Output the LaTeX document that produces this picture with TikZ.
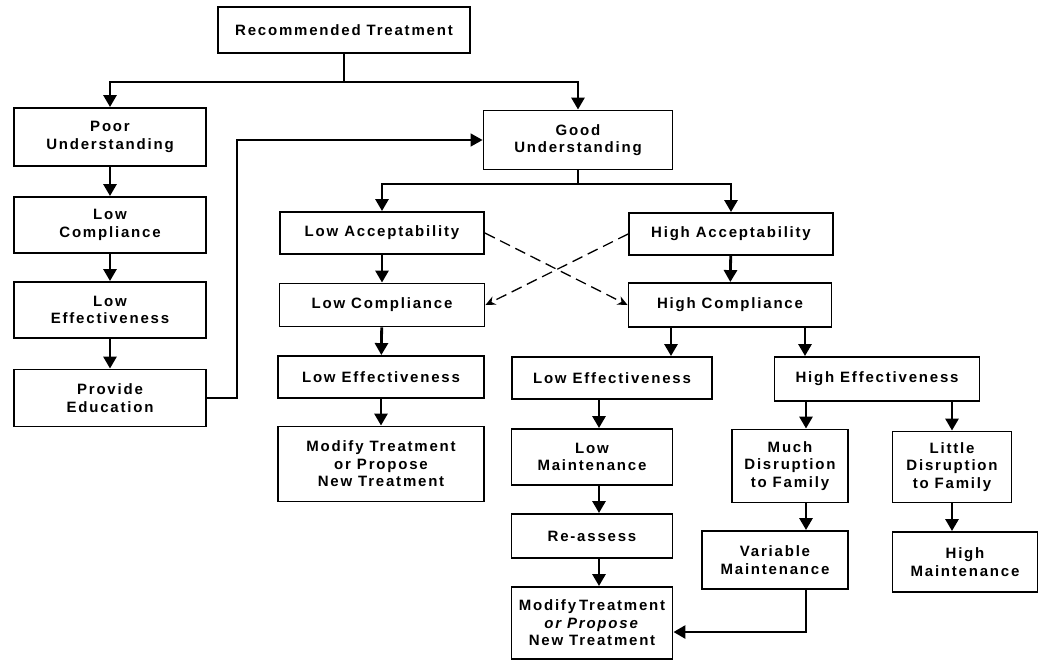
\documentclass[tikz,border=0pt]{standalone}
\usepackage{fontspec}
\setmainfont{Liberation Sans}[LetterSpace=12]
\usetikzlibrary{arrows.meta,calc}
\tikzset{
	box/.style={draw, line width=1.9pt, align=center, inner sep=0pt, font=\bfseries\fontsize{15}{17.5}\selectfont},
	flow/.style={line width=2.8pt, -{Triangle[width=13pt,length=12pt]}},
	trunk/.style={line width=2.8pt},
	backflow/.style={line width=1.6pt, -{Triangle[width=13pt,length=12pt]}},
	crossflow/.style={line width=1.3pt, dash pattern=on 11pt off 6pt, -{Stealth[width=9pt,length=10pt]}},
}

\begin{document}
\begin{tikzpicture}[x=1pt,y=-1pt]
			\useasboundingbox (0,0) rectangle (1038,662);
			\node[box, minimum width=252pt, minimum height=46pt] (rt) at (344,30) {Recommended Treatment};
			\node[box, minimum width=192pt, minimum height=58pt] (poor) at (110,137) {Poor\\Understanding};
			\node[box, minimum width=192pt, minimum height=56pt] (lcompA) at (110,225) {Low\\Compliance};
			\node[box, minimum width=192pt, minimum height=56pt] (leffA) at (110,310) {Low\\Effectiveness};
			\node[box, minimum width=192pt, minimum height=57pt] (educ) at (110,398) {Provide\\Education};
			\node[box, minimum width=189pt, minimum height=59pt] (good) at (578,140) {Good\\Understanding};
			\node[box, minimum width=204pt, minimum height=42pt] (lacc) at (382,233) {Low Acceptability};
			\node[box, minimum width=204pt, minimum height=42pt] (hacc) at (731,234) {High Acceptability};
			\node[box, minimum width=205pt, minimum height=43pt] (lcompB) at (382,305) {Low Compliance};
			\node[box, minimum width=203pt, minimum height=44pt] (hcomp) at (730,305) {High Compliance};
			\node[box, minimum width=206pt, minimum height=42pt] (leffB) at (381,377) {Low Effectiveness};
			\node[box, minimum width=206pt, minimum height=75pt] (modA) at (381,464) {Modify Treatment\\or Propose\\New Treatment};
			\node[box, minimum width=200pt, minimum height=42pt] (leffC) at (612,378) {Low Effectiveness};
			\node[box, minimum width=161pt, minimum height=56pt] (lmaint) at (592,457) {Low\\Maintenance};
			\node[box, minimum width=161pt, minimum height=44pt] (reass) at (592,536) {Re-assess};
			\node[box, minimum width=161pt, minimum height=72pt] (modB) at (592,623) {Modify\hspace{-3pt} Treatment\\\textit{or Propose}\\New Treatment};
			\node[box, minimum width=205pt, minimum height=44pt] (heff) at (877,379) {High Effectiveness};
			\node[box, minimum width=116pt, minimum height=73pt] (much) at (790,466) {Much\\Disruption\\to Family};
			\node[box, minimum width=119pt, minimum height=71pt] (little) at (952,467) {Little\\Disruption\\to Family};
			\node[box, minimum width=146pt, minimum height=58pt] (varm) at (775,560) {Variable\\Maintenance};
			\node[box, minimum width=145pt, minimum height=60pt] (highm) at (965,562) {High\\Maintenance};
			\coordinate (rtfork) at (344,82);
			\coordinate (goodfork) at (578,184);
			\draw[trunk] (rt.south) -- (rtfork);
			\draw[flow] (rtfork) -| (poor.north);
			\draw[flow] (rtfork) -| (good.north);
			\draw[flow] (poor) -- (lcompA);
			\draw[flow] (lcompA) -- (leffA);
			\draw[flow] (leffA) -- (educ);
			\draw[backflow] (educ.east) -- ++(30,0) |- (good.west);
			\draw[trunk] (good.south) -- (goodfork);
			\draw[flow] (goodfork) -| (lacc.north);
			\draw[flow] (goodfork) -| (hacc.north);
			\draw[flow] (lacc) -- (lcompB);
			\draw[flow] (lcompB) -- (leffB);
			\draw[flow] (leffB) -- (modA);
			\draw[flow] (hacc) -- (hcomp);
			\draw[crossflow] (lacc.east) -- (hcomp.west);
			\draw[crossflow] (hacc.west) -- (lcompB.east);
			\draw[flow] ([xshift=-59pt]hcomp.south) -- ([xshift=-59pt]hcomp.south |- leffC.north);
			\draw[flow] ([xshift=75pt]hcomp.south) -- ([xshift=75pt]hcomp.south |- heff.north);
			\draw[flow] ([xshift=7pt]lmaint.north |- leffC.south) -- ([xshift=7pt]lmaint.north);
			\draw[flow] ([xshift=7pt]lmaint.south) -- ([xshift=7pt]reass.north);
			\draw[flow] ([xshift=7pt]reass.south) -- ([xshift=7pt]modB.north);
			\draw[flow] ([xshift=16pt]much.north |- heff.south) -- ([xshift=16pt]much.north);
			\draw[flow] (little.north |- heff.south) -- (little.north);
			\draw[flow] ([xshift=16pt]much.south) -- ([xshift=16pt]much.south |- varm.north);
			\draw[flow] (little.south) -- (little.south |- highm.north);
			\draw[flow] ([xshift=31pt]varm.south) |- ([yshift=-9pt]modB.east);
		\end{tikzpicture}
\end{document}
